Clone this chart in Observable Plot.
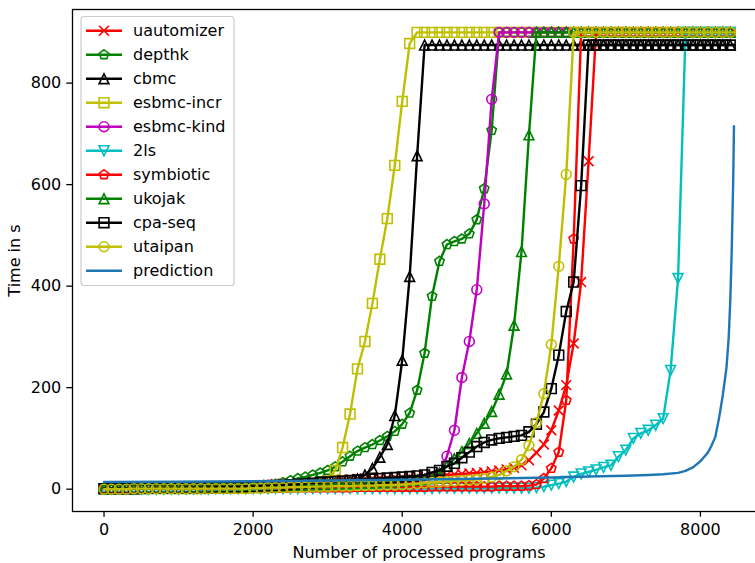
<!DOCTYPE html>
<html><head><meta charset="utf-8">
<script src="https://cdn.jsdelivr.net/npm/d3@7"></script>
<script src="https://cdn.jsdelivr.net/npm/@observablehq/plot@0.6"></script>
<style>html,body{margin:0;padding:0;overflow:hidden;background:#fff;} svg{display:block;max-width:none !important;}</style>
</head><body><div id="chart"></div>
<script>
// ---- data (time in s, sampled every 100 processed programs, x = 0..8400) ----
const seriesNames = ["uautomizer","depthk","cbmc","esbmc-incr","esbmc-kind","2ls","symbiotic","ukojak","cpa-seq","utaipan"];
const seriesColors = ["#ff0000","#008000","#000000","#bfbf00","#bf00bf","#00bfbf","#ff0000","#008000","#000000","#bfbf00"];
const seriesSymbols = ["x","pentagon","triangleUp","square","circle","triangleDown","pentagon","triangleUp","square","circle"];
const step = 100;
const lastProgram = 8450;

const uautomizer = [1,1,1,2,2,2,2,3,3,3, 3,4,4,4,5,5,5,6,6,6, 7,8,9,10,11,12,13,14,15,16, 17,18,19,19,20,21,21,22,22,23,
  23,24,24,25,26,27,28,29,30,31, 32,33,35,37,39,42,47,57,72,88, 116,155,205,287,408,646,900,900,900,900,
  900,900,900,900,900,900,900,900,900,900, 900,900,900,900,900];
const depthk = [1,1,1,1,2,2,2,2,3,3, 3,3,3,4,4,4,4,5,5,5, 5,6,8,10,13,17,21,24,28,32, 37,44,54,65,75,82,88,96,104,114,
  128,150,195,268,380,449,482,488,493,503, 531,592,707,900,900,900,900,900,900,900, 900,900,900,900,900,900,900,900,900,900,
  900,900,900,900,900,900,900,900,900,900, 900,900,900,900,900];
const cbmc = [1,1,1,1,1,2,2,2,2,2, 2,2,3,3,3,3,3,4,4,4, 4,5,5,6,6,7,7,8,8,9, 10,11,12,15,20,28,41,63,88,145,
  254,419,657,875,875,875,875,875,875,875, 875,875,875,875,875,875,875,875,875,875, 875,875,875,875,875,875,875,875,875,875,
  875,875,875,875,875,875,875,875,875,875, 875,875,875,875,875];
const esbmcIncr = [1,1,1,1,1,1,1,1,1,1, 1,1,1,1,2,2,2,2,2,2, 3,3,3,4,4,5,5,6,7,9, 16,37,82,148,237,291,366,453,533,638,
  764,878,900,900,900,900,900,900,900,900, 900,900,900,900,900,900,900,900,900,900, 900,900,900,900,900,900,900,900,900,900,
  900,900,900,900,900,900,900,900,900,900, 900,900,900,900,900];
const esbmcKind = [1,1,1,1,1,1,1,2,2,2, 2,2,2,2,2,3,3,3,3,3, 4,4,5,5,6,6,7,7,8,8, 9,9,10,10,11,11,12,12,13,13,
  14,15,16,18,21,30,65,116,220,291, 393,562,768,900,900,900,900,900,900,900, 900,900,900,900,900,900,900,900,900,900,
  900,900,900,900,900,900,900,900,900,900, 900,900,900,900,900];
const twoLs = [0,0,0,0,0,0,0,0,0,0, 0,0,0,0,0,1,1,1,1,1, 1,1,1,1,1,1,1,1,1,1, 1,1,1,1,1,1,1,1,1,1,
  1,1,1,1,1,2,2,2,2,2, 2,2,2,2,2,2,2,2,3,5, 8,11,15,24,30,34,38,43,47,64,
  77,100,110,116,126,139,234,415,900,900, 900,900,900,900,900];
const symbiotic = [1,1,1,1,1,1,1,1,1,1, 1,1,1,1,1,1,1,1,2,2, 2,2,2,2,2,3,3,3,3,3, 3,3,3,3,4,4,4,4,4,4,
  4,4,4,4,5,5,5,5,5,5, 5,5,5,6,6,6,6,7,9,21, 41,73,175,493,900,900,900,900,900,900,
  900,900,900,900,900,900,900,900,900,900, 900,900,900,900,900];
const ukojak = [1,1,1,1,1,1,2,2,2,2, 2,2,2,3,3,3,3,3,4,4, 4,5,5,6,6,7,7,8,8,9, 9,10,10,11,11,12,12,13,14,15,
  16,17,18,19,22,32,45,60,74,90, 110,130,153,187,227,323,468,698,900,900, 900,900,900,900,900,900,900,900,900,900,
  900,900,900,900,900,900,900,900,900,900, 900,900,900,900,900];
const cpaSeq = [1,1,1,1,1,2,2,2,2,2, 2,3,3,3,3,4,4,4,4,5, 5,6,6,7,8,9,10,11,12,13, 14,15,16,17,18,19,20,21,22,23,
  24,25,26,28,33,37,45,51,62,73, 84,92,97,100,102,104,106,113,128,152, 198,264,350,408,598,875,875,875,875,875,
  875,875,875,875,875,875,875,875,875,875, 875,875,875,875,875];
const utaipan = [0,0,0,0,1,1,1,1,1,1, 1,1,1,1,1,1,1,1,1,1, 2,2,3,3,3,4,4,4,5,5, 5,6,6,6,7,7,7,8,8,8,
  9,10,11,12,13,14,15,16,17,18, 19,21,24,28,36,44,58,86,131,188, 285,439,620,900,900,900,900,900,900,900,
  900,900,900,900,900,900,900,900,900,900, 900,900,900,900,900];

const predictionX = [0,1000,2000,3000,4000,5000,6000,6500,7000,7300,7500,7700,7800,7900,8000,8100,8150,8200,8250,8300,8350,8380,8400,8420,8440,8450];
const predictionY = [14,14.5,15.5,17,18.5,20.5,23,25,26.5,28,29.5,32,36,43,55,72,86,103,140,185,240,300,370,470,610,715];

const xTicks = [0,2000,4000,6000,8000];
const yTicks = [0,200,400,600,800];
const xLabel = "Number of processed programs";
const yLabel = "Time in s";

const seriesValues = [uautomizer, depthk, cbmc, esbmcIncr, esbmcKind, twoLs, symbiotic, ukojak, cpaSeq, utaipan];

// ---- marker symbols (matplotlib-like) ----
function sym(fn){ return {draw(c, size){ const r = Math.sqrt(size/Math.PI); fn(c, r); }}; }
const symbolDefs = {
  x: sym((c,r)=>{c.moveTo(-r,-r);c.lineTo(r,r);c.moveTo(-r,r);c.lineTo(r,-r);}),
  pentagon: sym((c,r)=>{for(let k=0;k<5;k++){const a=-Math.PI/2+k*2*Math.PI/5;const px=r*Math.cos(a),py=r*Math.sin(a);if(k)c.lineTo(px,py);else c.moveTo(px,py);}c.closePath();}),
  triangleUp: sym((c,r)=>{c.moveTo(0,-r);c.lineTo(r,r);c.lineTo(-r,r);c.closePath();}),
  triangleDown: sym((c,r)=>{c.moveTo(0,r);c.lineTo(r,-r);c.lineTo(-r,-r);c.closePath();}),
  square: sym((c,r)=>{c.rect(-r,-r,2*r,2*r);}),
  circle: sym((c,r)=>{c.moveTo(r,0);c.arc(0,0,r,0,2*Math.PI);})
};

const markerR = 4.9;
const marks = [];
seriesNames.forEach((name, s) => {
  const pts = seriesValues[s].map((v, i) => ({x: i*step, y: v}));
  const linePts = pts.concat([{x: lastProgram, y: pts[pts.length-1].y}]);
  marks.push(Plot.line(linePts, {x: "x", y: "y", stroke: seriesColors[s], strokeWidth: 2.4, curve: "linear"}));
  marks.push(Plot.dot(pts, {x: "x", y: "y", symbol: symbolDefs[seriesSymbols[s]], r: markerR, fill: "none", stroke: seriesColors[s], strokeWidth: 1.6}));
});
const predPts = predictionX.map((x, i) => ({x, y: predictionY[i]}));
marks.push(Plot.line(predPts, {x: "x", y: "y", stroke: "#1f77b4", strokeWidth: 2.4}));
marks.push(Plot.frame({stroke: "black", strokeWidth: 1.3}));
marks.push(Plot.axisX(xTicks, {tickFormat: d => String(d), tickSize: 5.7, tickPadding: 6, fontSize: 16, strokeWidth: 1.3,
  label: xLabel, labelAnchor: "center", labelArrow: "none", labelOffset: 46}));
marks.push(Plot.axisY(yTicks, {tickFormat: d => String(d), tickSize: 5.7, tickPadding: 5.5, fontSize: 16, strokeWidth: 1.3,
  label: yLabel, labelAnchor: "center", labelArrow: "none", labelOffset: 64}));

const chart = Plot.plot({
  width: 765, height: 563,
  marginLeft: 72, marginRight: 0, marginTop: 9, marginBottom: 52,
  x: {domain: [-423, 8873]},
  y: {domain: [-44, 945]},
  style: {fontFamily: "DejaVu Sans", fontSize: "16px", background: "white", color: "black", maxWidth: "none"},
  marks
});
document.getElementById("chart").appendChild(chart);

// ---- legend (inside the axes, upper left) ----
const svg = d3.select(chart);
const lg = svg.append("g").attr("font-family", "DejaVu Sans").attr("font-size", 16).attr("text-anchor", "start");
lg.append("rect").attr("x", 81).attr("y", 16.5).attr("width", 153).attr("height", 269).attr("rx", 3)
  .attr("fill", "white").attr("fill-opacity", 0.8).attr("stroke", "#cccccc").attr("stroke-width", 1.2);
const legendNames = seriesNames.concat(["prediction"]);
const legendColors = seriesColors.concat(["#1f77b4"]);
legendNames.forEach((name, k) => {
  const yy = 30.7 + k*24;
  lg.append("line").attr("x1", 86).attr("x2", 122).attr("y1", yy).attr("y2", yy).attr("stroke", legendColors[k]).attr("stroke-width", 2.4);
  if (k < seriesSymbols.length) {
    lg.append("path").attr("transform", `translate(104,${yy})`)
      .attr("d", d3.symbol(symbolDefs[seriesSymbols[k]], Math.PI*markerR*markerR)())
      .attr("fill", "none").attr("stroke", legendColors[k]).attr("stroke-width", 1.6);
  }
  lg.append("text").attr("x", 133).attr("y", yy).attr("dy", "0.36em").attr("text-anchor", "start").attr("fill", "black").text(name);
});
</script></body></html>
